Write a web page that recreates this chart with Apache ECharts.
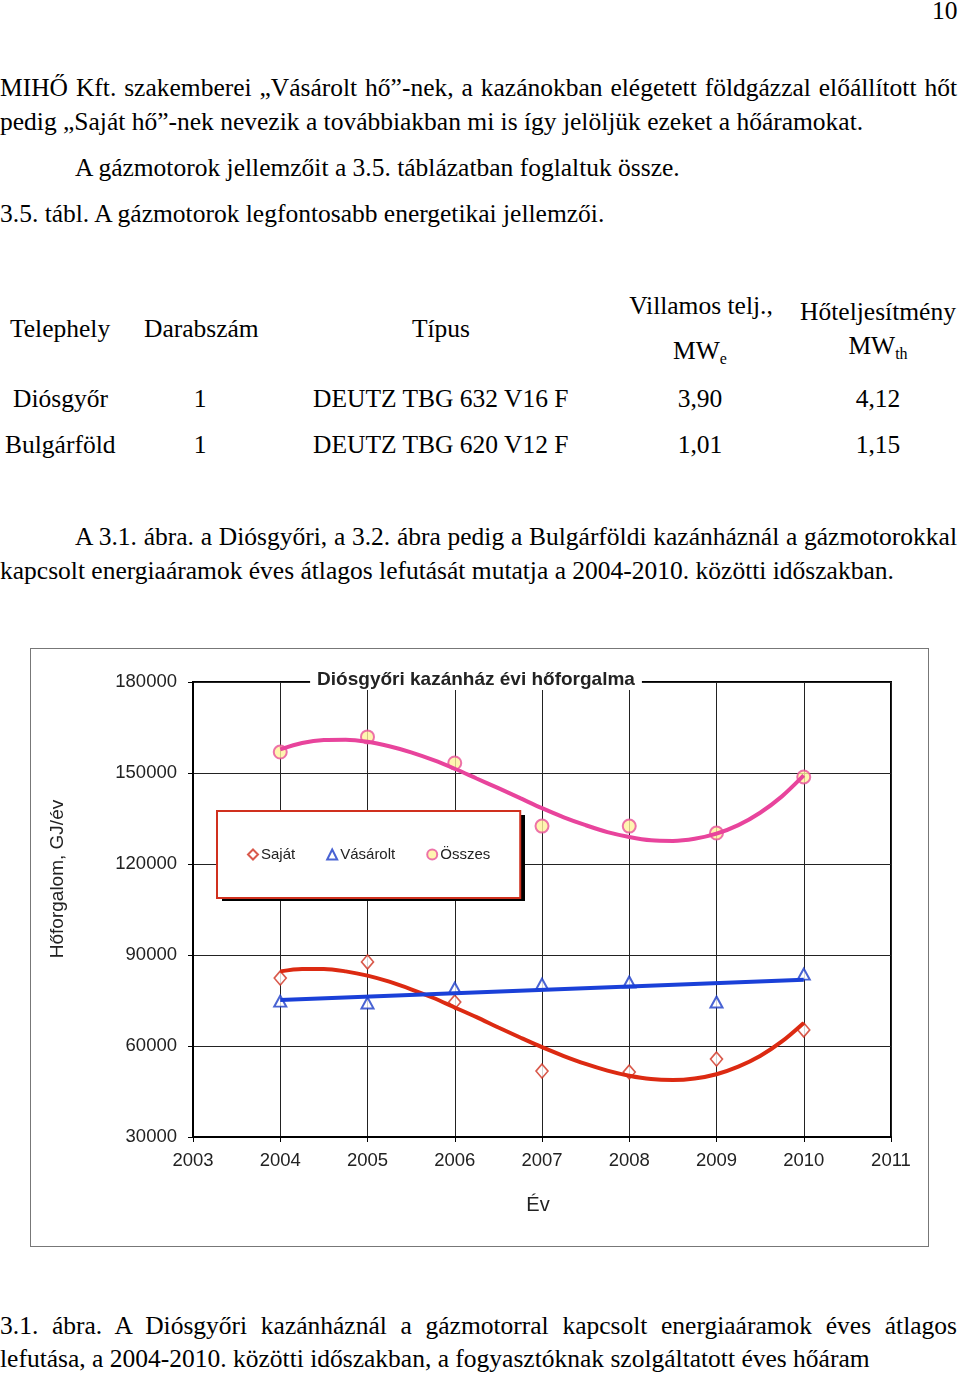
<!DOCTYPE html>
<html><head><meta charset="utf-8">
<script src="https://cdn.jsdelivr.net/npm/echarts@6/dist/echarts.min.js"></script>
<style>
html,body{margin:0;padding:0;background:#fff;}
#page{position:relative;width:960px;height:1373px;overflow:hidden;font-family:"Liberation Serif","Times New Roman",serif;color:#000;}
.t{position:absolute;white-space:nowrap;font-size:25.5px;line-height:34px;}
.j{text-align:justify;text-align-last:justify;white-space:normal;}
.c{text-align:center;transform:translateX(-50%);}
sub{font-size:16px;vertical-align:-5px;line-height:0;}
#chart{position:absolute;left:30px;top:648px;width:897px;height:597px;border:1px solid #777;}
</style></head><body>
<div id="page">
<div class="t" style="left:932px;top:-6px;">10</div>
<div class="t j" style="left:0;top:71px;width:957px;">MIHŐ Kft. szakemberei „Vásárolt hő”-nek, a kazánokban elégetett földgázzal előállított hőt</div>
<div class="t" style="left:0;top:105px;">pedig „Saját hő”-nek nevezik a továbbiakban mi is így jelöljük ezeket a hőáramokat.</div>
<div class="t" style="left:75px;top:151px;">A gázmotorok jellemzőit a 3.5. táblázatban foglaltuk össze.</div>
<div class="t" style="left:0;top:197px;">3.5. tábl. A gázmotorok legfontosabb energetikai jellemzői.</div>

<div class="t" style="left:10px;top:312px;">Telephely</div>
<div class="t" style="left:144px;top:312px;">Darabszám</div>
<div class="t c" style="left:441px;top:312px;">Típus</div>
<div class="t c" style="left:701px;top:289px;">Villamos telj.,</div>
<div class="t c" style="left:700px;top:334px;">MW<sub>e</sub></div>
<div class="t c" style="left:878px;top:295px;">Hőteljesítmény</div>
<div class="t c" style="left:878px;top:329px;">MW<sub>th</sub></div>

<div class="t" style="left:13px;top:382px;">Diósgyőr</div>
<div class="t c" style="left:200px;top:382px;">1</div>
<div class="t" style="left:313px;top:382px;">DEUTZ TBG 632 V16 F</div>
<div class="t c" style="left:700px;top:382px;">3,90</div>
<div class="t c" style="left:878px;top:382px;">4,12</div>

<div class="t" style="left:5px;top:428px;">Bulgárföld</div>
<div class="t c" style="left:200px;top:428px;">1</div>
<div class="t" style="left:313px;top:428px;">DEUTZ TBG 620 V12 F</div>
<div class="t c" style="left:700px;top:428px;">1,01</div>
<div class="t c" style="left:878px;top:428px;">1,15</div>

<div class="t j" style="left:75px;top:520px;width:882px;">A 3.1. ábra. a Diósgyőri, a 3.2. ábra pedig a Bulgárföldi kazánháznál a gázmotorokkal</div>
<div class="t" style="left:0;top:554px;">kapcsolt energiaáramok éves átlagos lefutását mutatja a 2004-2010. közötti időszakban.</div>

<div id="chart"></div>

<div class="t j" style="left:0;top:1309px;width:957px;">3.1. ábra. A Diósgyőri kazánháznál a gázmotorral kapcsolt energiaáramok éves átlagos</div>
<div class="t" style="left:0;top:1342px;">lefutása, a 2004-2010. közötti időszakban, a fogyasztóknak szolgáltatott éves hőáram</div>
</div>
<script>
// ---- data ----
const years = [2004, 2005, 2006, 2007, 2008, 2009, 2010];
const sajat = [82400, 87700, 74500, 51750, 51400, 55700, 65300];
const vasarolt = [74800, 74200, 79100, 80400, 81100, 74500, 83700];
const osszes = [156900, 161900, 153300, 132500, 132500, 130200, 148700];

// trend lines as drawn in the picture, read every quarter year
const trendYears = [2004, 2004.25, 2004.5, 2004.75, 2005, 2005.25, 2005.5, 2005.75, 2006, 2006.25, 2006.5, 2006.75,
                    2007, 2007.25, 2007.5, 2007.75, 2008, 2008.25, 2008.5, 2008.75, 2009, 2009.25, 2009.5, 2009.75, 2010];
const sajatTrend = [84600, 85400, 85400, 84600, 83200, 81200, 78700, 75900, 72700, 69500, 66100, 62800,
                    59600, 56700, 54100, 51900, 50200, 49100, 48800, 49300, 50700, 53200, 56700, 61500, 67600];
const osszesTrend = [157800, 159900, 160900, 161000, 160300, 158800, 156800, 154300, 151400, 148200, 145000, 141700,
                     138400, 135400, 132800, 130500, 128900, 127800, 127600, 128300, 130000, 132800, 136900, 142300, 149200];
const vasaroltTrendYears = [2004, 2010];
const vasaroltTrend = [75200, 81800];

const xTicks = [2003, 2004, 2005, 2006, 2007, 2008, 2009, 2010, 2011];
const yTicks = [30000, 60000, 90000, 120000, 150000, 180000];

const titleText = 'Diósgyőri kazánház évi hőforgalma';
const xName = 'Év';
const yName = 'Hőforgalom, GJ/év';

const pairs = (xs, ys) => xs.map((x, i) => [x, ys[i]]);
const sans = '"Liberation Sans", Arial, sans-serif';

const chart = echarts.init(document.getElementById('chart'), null, {renderer: 'canvas'});
chart.setOption({
  animation: false,
  title: {
    text: titleText, left: 438, textAlign: 'center', top: 20,
    backgroundColor: '#fff', padding: [1, 7],
    textStyle: {fontFamily: sans, fontSize: 19, fontWeight: 'bold', color: '#222'}
  },
  legend: {
    data: ['Saját', 'Vásárolt', 'Összes'],
    left: 186, top: 162,
    padding: [36, 30, 36, 30],
    itemGap: 31, itemWidth: 10, itemHeight: 10,
    backgroundColor: '#fff', borderColor: '#d0301e', borderWidth: 2, borderRadius: 0,
    textStyle: {fontFamily: sans, fontSize: 15, color: '#222', padding: [0, 0, 0, -2]}
  },
  grid: {left: 162, top: 33, width: 698, height: 455, show: true, borderColor: '#000', borderWidth: 2, containLabel: false},
  graphic: [
    {type: 'rect', z: 3, shape: {x: 191, y: 166, width: 303, height: 86}, style: {fill: '#000'}},
    {type: 'text', x: 27, y: 230, rotation: Math.PI / 2,
     style: {text: yName, font: '19px "Liberation Sans", Arial, sans-serif', fill: '#222', align: 'center', verticalAlign: 'middle'}}
  ],
  xAxis: {
    type: 'value', min: xTicks[0], max: xTicks[xTicks.length - 1], interval: 1,
    axisLine: {show: true, lineStyle: {color: '#000', width: 2}},
    axisTick: {show: true, length: 5, lineStyle: {color: '#000'}},
    axisLabel: {formatter: v => String(v), fontFamily: sans, fontSize: 18.5, color: '#222', margin: 14},
    splitLine: {show: true, lineStyle: {color: '#222', width: 1}},
    name: xName, nameLocation: 'middle', nameGap: 58,
    nameTextStyle: {fontFamily: sans, fontSize: 20, color: '#222', padding: [0, 8, 0, 0]}
  },
  yAxis: {
    type: 'value', min: yTicks[0], max: yTicks[yTicks.length - 1], interval: 30000,
    axisLine: {show: true, lineStyle: {color: '#000', width: 2}},
    axisTick: {show: true, length: 5, lineStyle: {color: '#000'}},
    axisLabel: {formatter: v => String(v), fontFamily: sans, fontSize: 18.5, color: '#222', margin: 16},
    splitLine: {show: true, lineStyle: {color: '#222', width: 1}}
  },
  series: [
    {name: 'Saját', type: 'scatter', z: 2, symbol: 'diamond', symbolSize: [12, 14], data: pairs(years, sajat),
     itemStyle: {color: '#fff', borderColor: '#d0301e', borderWidth: 1.6}},
    {name: 'Vásárolt', type: 'scatter', z: 2, symbol: 'triangle', symbolSize: [12, 11], data: pairs(years, vasarolt),
     itemStyle: {color: '#fff', borderColor: '#1c3cc8', borderWidth: 2}},
    {name: 'Összes', type: 'scatter', z: 2, symbol: 'circle', symbolSize: 13, data: pairs(years, osszes),
     itemStyle: {color: '#fff29e', borderColor: '#e8509a', borderWidth: 2}},
    {name: 'Saját trend', type: 'line', z: 3, smooth: 0.3, showSymbol: false, data: pairs(trendYears, sajatTrend),
     lineStyle: {color: '#dc2a12', width: 4}},
    {name: 'Vásárolt trend', type: 'line', z: 3, showSymbol: false, data: pairs(vasaroltTrendYears, vasaroltTrend),
     lineStyle: {color: '#1a40d8', width: 4}},
    {name: 'Összes trend', type: 'line', z: 3, smooth: 0.3, showSymbol: false, data: pairs(trendYears, osszesTrend),
     lineStyle: {color: '#e8449c', width: 4}}
  ]
});
</script>
</body></html>
